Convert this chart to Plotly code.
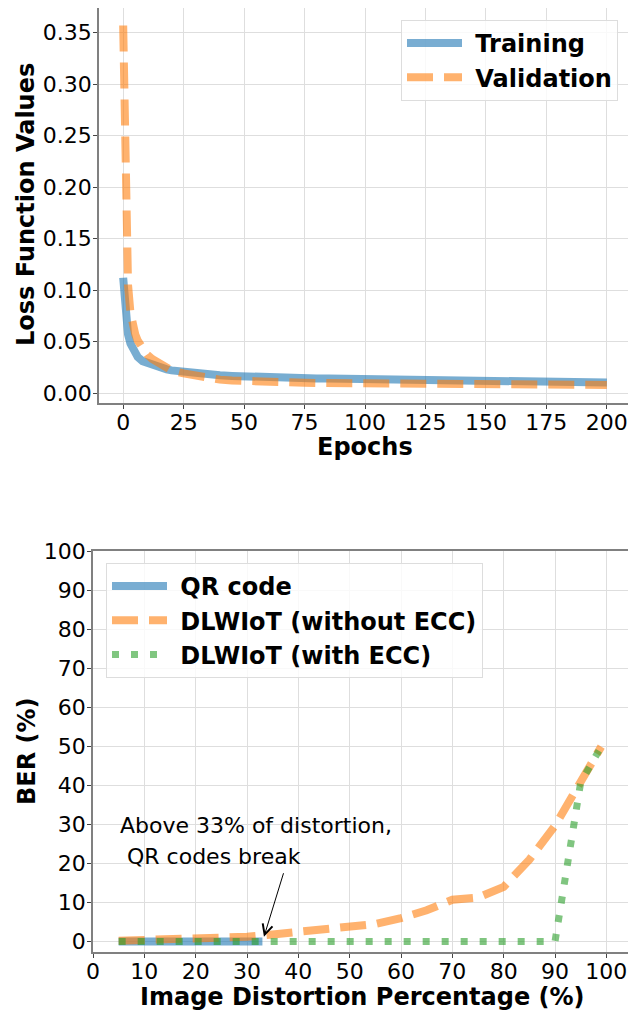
import plotly.graph_objects as go

# ---------------- data: top chart (loss curves) ----------------
epochs = [0, 1, 2, 3, 4, 5, 6, 8, 10, 12, 15, 18, 20, 25, 30, 35, 40, 45, 50,
          55, 60, 65, 70, 75, 80, 85, 90, 95, 100, 105, 110, 115, 120, 125,
          130, 135, 140, 145, 150, 155, 160, 165, 170, 175, 180, 185, 190, 195, 200]
training_loss = [0.112, 0.071, 0.057, 0.048, 0.042, 0.038, 0.035, 0.031, 0.029,
                 0.027, 0.025, 0.023, 0.022, 0.0205, 0.019, 0.018, 0.0172, 0.0166,
                 0.016, 0.0158, 0.0155, 0.015, 0.0148, 0.0146, 0.0142, 0.014, 0.0138,
                 0.0135, 0.0138, 0.0135, 0.0133, 0.013, 0.0131, 0.0128, 0.0126,
                 0.0125, 0.0124, 0.0125, 0.0121, 0.012, 0.0118, 0.0116, 0.0117,
                 0.0114, 0.0111, 0.011, 0.0108, 0.0106, 0.0102]
validation_loss = [0.357, 0.175, 0.105, 0.078, 0.065, 0.057, 0.051, 0.043, 0.037,
                   0.033, 0.028, 0.024, 0.022, 0.019, 0.0165, 0.0145, 0.013, 0.0122,
                   0.0115, 0.011, 0.0106, 0.0103, 0.0101, 0.0099, 0.0097, 0.0096,
                   0.0095, 0.0094, 0.0093, 0.0092, 0.0091, 0.009, 0.009, 0.0089,
                   0.0088, 0.0088, 0.0087, 0.0086, 0.0086, 0.0085, 0.0084, 0.0084,
                   0.0083, 0.0082, 0.0082, 0.0081, 0.008, 0.008, 0.0079]

# ---------------- data: bottom chart (BER) ----------------
qr_x = [5, 10, 15, 20, 25, 30, 33]
qr_ber = [0, 0, 0, 0, 0, 0, 0]
dl_x = [5, 10, 15, 20, 25, 30, 35, 40, 45, 50, 55, 60, 65, 70, 75, 80, 85, 90, 95, 99]
dl_no_ecc = [0.2, 0.3, 0.4, 0.5, 0.8, 1.2, 1.8, 2.6, 3.3, 4.0, 4.5, 6.0, 8.0,
             10.7, 11.3, 14.0, 21.0, 29.7, 40.8, 50.0]
dl_ecc = [0, 0, 0, 0, 0, 0, 0, 0, 0, 0, 0, 0, 0, 0, 0, 0, 0, 0, 40.8, 50.0]

loss_ticks = [0.00, 0.05, 0.10, 0.15, 0.20, 0.25, 0.30, 0.35]
epoch_ticks = [0, 25, 50, 75, 100, 125, 150, 175, 200]
pct_ticks = [0, 10, 20, 30, 40, 50, 60, 70, 80, 90, 100]

annot_line1 = "Above 33% of distortion,"
annot_line2 = "\u00a0QR codes break"

# ---------------- style ----------------
FONT = "DejaVu Sans"
BLUE = "#1f77b4"
ORANGE = "#ff7f0e"
GREEN = "#2ca02c"
OFF = 8                      # page body margin
FW, FH = 636 - OFF, 1013 - OFF
SP = "\u00a0"


def fx(px):
    return min(1.0, max(0.0, (px - OFF) / FW))


def fy(py):
    return min(1.0, max(0.0, 1 - (py - OFF) / FH))


fig = go.Figure()

fig.add_trace(go.Scatter(x=epochs, y=training_loss, mode="lines", name=SP + "Training",
                         line=dict(color=BLUE, width=8), opacity=0.6,
                         xaxis="x", yaxis="y", legend="legend", legendgroup="a"))
fig.add_trace(go.Scatter(x=epochs, y=validation_loss, mode="lines", name=SP + "Validation",
                         line=dict(color=ORANGE, width=8, dash="26px,11px"), opacity=0.6,
                         xaxis="x", yaxis="y", legend="legend", legendgroup="b"))

fig.add_trace(go.Scatter(x=qr_x, y=qr_ber, mode="lines", name=SP + "QR code",
                         line=dict(color=BLUE, width=8), opacity=0.6,
                         xaxis="x2", yaxis="y2", legend="legend2", legendgroup="c"))
fig.add_trace(go.Scatter(x=dl_x, y=dl_no_ecc, mode="lines", name=SP + "DLWIoT (without ECC)",
                         line=dict(color=ORANGE, width=8, dash="26px,11px"), opacity=0.6,
                         xaxis="x2", yaxis="y2", legend="legend2", legendgroup="d"))
fig.add_trace(go.Scatter(x=dl_x, y=dl_ecc, mode="lines", name=SP + "DLWIoT (with ECC)",
                         line=dict(color=GREEN, width=7, dash="7px,12px"), opacity=0.6,
                         xaxis="x2", yaxis="y2", legend="legend2", legendgroup="e"))

axis_common = dict(showline=True, mirror=True, linecolor="#808080", linewidth=1.5,
                   showgrid=True, gridcolor="#dedede", gridwidth=1, zeroline=False,
                   ticks="outside", ticklen=4, tickcolor="#444", tickwidth=1.2,
                   automargin=False,
                   tickfont=dict(family=FONT, size=22, color="black"))

legend_common = dict(bgcolor="rgba(255,255,255,0.8)", bordercolor="#dddddd", borderwidth=1,
                     font=dict(family=FONT, size=24, color="black", weight="bold"),
                     itemwidth=55, tracegroupgap=0, traceorder="grouped")

fig.update_layout(
    width=FW, height=FH,
    margin=dict(l=0, r=0, t=0, b=0, autoexpand=False),
    paper_bgcolor="white", plot_bgcolor="white",
    showlegend=True,
    xaxis=dict(domain=[fx(99), fx(631)], range=[-10, 210], tickvals=epoch_ticks,
               anchor="y", ticklabelstandoff=-5, **axis_common),
    yaxis=dict(domain=[fy(403), fy(8)], range=[-0.0097, 0.374],
               tickvals=loss_ticks, tickformat=".2f", anchor="x",
               ticklabelstandoff=-3, **axis_common),
    xaxis2=dict(domain=[fx(93), fx(631)], range=[0, 104.8], tickvals=pct_ticks,
                anchor="y2", ticklabelstandoff=-5, **axis_common),
    yaxis2=dict(domain=[fy(952), fy(551)], range=[-2.7, 100.2],
                tickvals=pct_ticks, anchor="x2", ticklabelstandoff=-3, **axis_common),
    legend=dict(x=fx(618), y=fy(20), xanchor="right", yanchor="top", **legend_common),
    legend2=dict(x=fx(106), y=fy(563), xanchor="left", yanchor="top", **legend_common),
)

title_font = dict(family=FONT, size=24, color="black", weight="bold")
fig.add_annotation(text="Loss Function Values", xref="paper", yref="paper",
                   x=fx(26), y=fy(205), textangle=-90, showarrow=False,
                   font=title_font, xanchor="center", yanchor="middle")
fig.add_annotation(text="Epochs", xref="paper", yref="paper",
                   x=fx(365), y=fy(447), showarrow=False,
                   font=title_font, xanchor="center", yanchor="middle")
fig.add_annotation(text="BER (%)", xref="paper", yref="paper",
                   x=fx(27), y=fy(751), textangle=-90, showarrow=False,
                   font=title_font, xanchor="center", yanchor="middle")
fig.add_annotation(text="Image Distortion Percentage (%)", xref="paper", yref="paper",
                   x=fx(362), y=fy(997), showarrow=False,
                   font=title_font, xanchor="center", yanchor="middle")

note_font = dict(family=FONT, size=22, color="black")
fig.add_annotation(text=annot_line1, xref="x2", yref="y2", x=4.8, y=29.7,
                   xanchor="left", yanchor="middle", showarrow=False, font=note_font)
fig.add_annotation(text=annot_line2, xref="x2", yref="y2", x=4.8, y=21.7,
                   xanchor="left", yanchor="middle", showarrow=False, font=note_font)
fig.add_annotation(text="", xref="x2", yref="y2", x=33.3, y=1.2,
                   axref="x2", ayref="y2", ax=37.2, ay=17.9,
                   showarrow=True, arrowhead=5, arrowsize=2, arrowwidth=1,
                   arrowcolor="black", standoff=0)

fig.write_html("out.html")
